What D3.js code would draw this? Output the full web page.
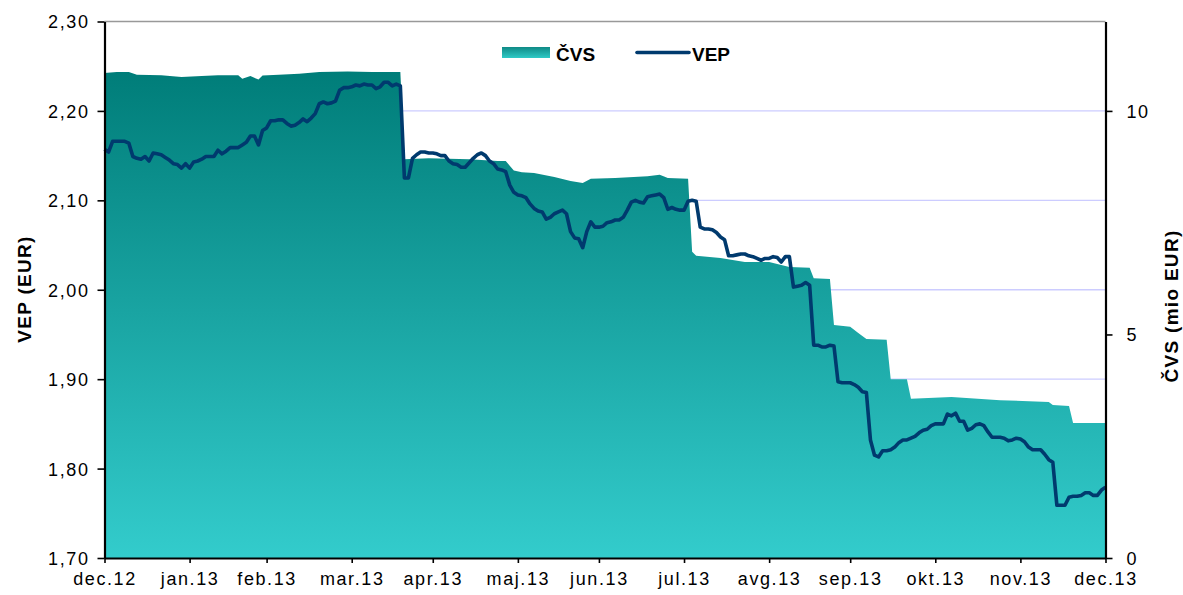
<!DOCTYPE html>
<html lang="sl">
<head>
  <meta charset="UTF-8">
  <title>VEP in ČVS</title>
  <style>
    body { margin: 0; background: #fff; }
    svg { display: block; font-family: "Liberation Sans", Arial, sans-serif; }
  </style>
</head>
<body>
  <svg width="1183" height="595"></svg>
  <script src="https://cdnjs.cloudflare.com/ajax/libs/d3/7.8.5/d3.min.js"></script>
  <script>
    // trading-day index of the first day of each month, and its label
    var monthStart = [0, 21, 40, 61, 81, 102, 122, 143, 164, 184, 205, 226, 247]
    var monthLabels = ['dec.12', 'jan.13', 'feb.13', 'mar.13', 'apr.13', 'maj.13', 'jun.13',
      'jul.13', 'avg.13', 'sep.13', 'okt.13', 'nov.13', 'dec.13']

    var vepTicks = [1.70, 1.80, 1.90, 2.00, 2.10, 2.20, 2.30]
    var cvsTicks = [0, 5, 10]

    // VEP (EUR), one value per trading day
    var vep = [
      2.157, 2.154, 2.166, 2.166, 2.166, 2.166, 2.164, 2.149, 2.147, 2.146,
      2.149, 2.144, 2.153, 2.152, 2.151, 2.148, 2.145, 2.141, 2.140, 2.136,
      2.141, 2.136, 2.143, 2.144, 2.146, 2.149, 2.149, 2.149, 2.156, 2.152,
      2.155, 2.159, 2.159, 2.159, 2.162, 2.165, 2.172, 2.172, 2.162, 2.178,
      2.181, 2.189, 2.189, 2.190, 2.190, 2.186, 2.183, 2.184, 2.187, 2.191,
      2.188, 2.192, 2.197, 2.208, 2.210, 2.208, 2.209, 2.211, 2.223, 2.226,
      2.226, 2.227, 2.229, 2.228, 2.230, 2.229, 2.229, 2.225, 2.227, 2.232,
      2.232, 2.228, 2.230, 2.228, 2.125, 2.125, 2.147, 2.151, 2.154, 2.154,
      2.153, 2.153, 2.152, 2.150, 2.150, 2.144, 2.141, 2.140, 2.137, 2.137,
      2.142, 2.147, 2.151, 2.153, 2.150, 2.144, 2.141, 2.135, 2.134, 2.132,
      2.117, 2.109, 2.106, 2.105, 2.103, 2.096, 2.091, 2.088, 2.087, 2.079,
      2.081, 2.085, 2.087, 2.089, 2.085, 2.065, 2.058, 2.057, 2.047, 2.065,
      2.076, 2.070, 2.070, 2.071, 2.075, 2.076, 2.078, 2.078, 2.081, 2.089,
      2.098, 2.100, 2.098, 2.097, 2.104, 2.105, 2.106, 2.107, 2.103, 2.090,
      2.092, 2.090, 2.089, 2.089, 2.099, 2.100, 2.099, 2.070, 2.068, 2.068,
      2.067, 2.064, 2.059, 2.056, 2.038, 2.038, 2.039, 2.040, 2.040, 2.038,
      2.037, 2.035, 2.033, 2.035, 2.035, 2.037, 2.036, 2.031, 2.037, 2.037,
      2.003, 2.004, 2.005, 2.008, 2.005, 1.938, 1.938, 1.936, 1.936, 1.938,
      1.937, 1.897, 1.896, 1.896, 1.896, 1.894, 1.891, 1.886, 1.885, 1.832,
      1.815, 1.813, 1.820, 1.820, 1.821, 1.824, 1.829, 1.832, 1.832, 1.834,
      1.836, 1.840, 1.843, 1.844, 1.848, 1.850, 1.850, 1.850, 1.861, 1.859,
      1.862, 1.853, 1.853, 1.843, 1.845, 1.849, 1.850, 1.848, 1.841, 1.835,
      1.835, 1.835, 1.834, 1.831, 1.832, 1.834, 1.833, 1.830, 1.824, 1.821,
      1.821, 1.821, 1.816, 1.810, 1.807, 1.759, 1.759, 1.759, 1.768, 1.769,
      1.769, 1.770, 1.773, 1.773, 1.770, 1.770, 1.776, 1.779
    ]

    // ČVS (mio EUR), read at the points where it changes
    var cvsDay = [
      0, 3, 6, 8, 14, 19, 24, 28, 33, 34,
      36, 38, 39, 43, 48, 53, 60, 66, 73, 74,
      80, 90, 97, 99, 101, 103, 106, 111, 115, 118,
      120, 126, 134, 137, 139, 144, 145, 146, 152, 158,
      164, 169, 174, 175, 179, 180, 184, 186, 188, 193,
      194, 198, 199, 209, 221, 233, 234, 238, 239, 247
    ]
    var cvsValue = [
      10.85, 10.87, 10.87, 10.81, 10.80, 10.76, 10.78, 10.80, 10.80, 10.72,
      10.78, 10.70, 10.79, 10.81, 10.83, 10.87, 10.88, 10.87, 10.87, 8.92,
      8.94, 8.92, 8.88, 8.88, 8.67, 8.63, 8.61, 8.52, 8.43, 8.39,
      8.48, 8.50, 8.54, 8.57, 8.50, 8.48, 6.85, 6.76, 6.71, 6.62,
      6.62, 6.51, 6.49, 6.26, 6.24, 5.21, 5.17, 5.03, 4.90, 4.88,
      4.00, 4.00, 3.56, 3.60, 3.53, 3.49, 3.42, 3.40, 3.02, 3.02
    ]

    var svg = d3.select('svg')
    var plotLeft = 104.5, plotRight = 1105.5, plotTop = 21.5, plotBottom = 558

    var x = d3.scaleLinear().domain([0, 247]).range([plotLeft, plotRight])
    var yL = d3.scaleLinear().domain([1.70, 2.30]).range([plotBottom, plotTop])
    var yR = d3.scaleLinear().domain([0, 12]).range([plotBottom, plotTop])

    var comma = function(d) { return d3.format('.2f')(d).replace('.', ',') }

    var defs = svg.append('defs')
    var grad = defs.append('linearGradient')
      .attr('id', 'cvsFill')
      .attr('gradientUnits', 'userSpaceOnUse')
      .attr('x1', 0).attr('x2', 0).attr('y1', yR(10.9)).attr('y2', plotBottom)
    grad.append('stop').attr('offset', 0).attr('stop-color', '#007d79')
    grad.append('stop').attr('offset', 1).attr('stop-color', '#33cccc')

    var gradKey = defs.append('linearGradient')
      .attr('id', 'cvsKey')
      .attr('x1', 0).attr('x2', 0).attr('y1', 0).attr('y2', 1)
    gradKey.append('stop').attr('offset', 0).attr('stop-color', '#0f8a86')
    gradKey.append('stop').attr('offset', 1).attr('stop-color', '#2fcac6')

    // gridlines
    svg.append('g')
      .selectAll('line')
      .data(vepTicks.slice(1, -1))
      .enter()
      .append('line')
      .attr('x1', plotLeft).attr('x2', plotRight)
      .attr('y1', function(d) { return yL(d) }).attr('y2', function(d) { return yL(d) })
      .attr('stroke', '#ccccff')
      .attr('stroke-width', 1.3)

    svg.append('line')
      .attr('x1', plotLeft).attr('x2', plotRight).attr('y1', plotTop).attr('y2', plotTop)
      .attr('stroke', '#999').attr('stroke-width', 1.3)

    // ČVS area
    var cvsPts = cvsDay.map(function(d, i) { return [d, cvsValue[i]] })
    var area = d3.area()
      .x(function(d) { return x(d[0]) })
      .y0(plotBottom)
      .y1(function(d) { return yR(d[1]) })
    svg.append('path')
      .datum(cvsPts)
      .attr('fill', 'url(#cvsFill)')
      .attr('d', area)

    // VEP line
    var line = d3.line()
      .x(function(d, i) { return x(i) })
      .y(function(d) { return yL(d) })
    svg.append('path')
      .datum(vep)
      .attr('fill', 'none')
      .attr('stroke', '#003a6e')
      .attr('stroke-width', 3.6)
      .attr('stroke-linejoin', 'round')
      .attr('d', line)

    // axes
    var axisL = svg.append('g')
      .attr('transform', 'translate(' + plotLeft + ',0)')
      .call(d3.axisLeft(yL).tickValues(vepTicks).tickFormat(comma).tickSizeInner(7).tickSizeOuter(0).tickPadding(8))
    var axisR = svg.append('g')
      .attr('transform', 'translate(' + plotRight + ',0)')
      .call(d3.axisRight(yR).tickValues(cvsTicks).tickSizeInner(7).tickSizeOuter(0).tickPadding(14))
    var axisX = svg.append('g')
      .attr('transform', 'translate(0,' + plotBottom + ')')
      .call(d3.axisBottom(x).tickValues(monthStart)
        .tickFormat(function(d, i) { return monthLabels[i] })
        .tickSizeInner(5).tickSizeOuter(0).tickPadding(8))

    ;[axisL, axisR, axisX].forEach(function(a) {
      a.select('.domain').attr('stroke', '#000').attr('stroke-width', 2.2)
      a.selectAll('.tick line').attr('stroke', '#000').attr('stroke-width', 1.6)
      a.selectAll('text')
        .attr('font-family', '"Liberation Sans", Arial, sans-serif')
        .attr('font-size', 18)
        .attr('letter-spacing', 1.6)
        .attr('fill', '#000')
    })
    axisL.selectAll('text').attr('dy', '0.36em')
    axisR.selectAll('text').attr('dy', '0.36em')
    axisX.selectAll('text').attr('dy', '0.78em')

    // axis titles
    svg.append('text')
      .attr('transform', 'translate(31,289) rotate(-90)')
      .attr('text-anchor', 'middle')
      .attr('font-size', 19)
      .attr('font-weight', 'bold')
      .attr('letter-spacing', 1.3)
      .text('VEP (EUR)')
    svg.append('text')
      .attr('transform', 'translate(1178,306) rotate(-90)')
      .attr('text-anchor', 'middle')
      .attr('font-size', 19)
      .attr('font-weight', 'bold')
      .attr('letter-spacing', 1.3)
      .text('ČVS (mio EUR)')

    // legend
    var legend = svg.append('g')
    legend.append('rect')
      .attr('x', 502).attr('y', 47).attr('width', 48).attr('height', 11)
      .attr('fill', 'url(#cvsKey)')
    legend.append('text')
      .attr('x', 556).attr('y', 61)
      .attr('font-size', 19).attr('font-weight', 'bold')
      .text('ČVS')
    legend.append('line')
      .attr('x1', 637).attr('x2', 689).attr('y1', 52.5).attr('y2', 52.5)
      .attr('stroke', '#003a6e').attr('stroke-width', 3.6).attr('stroke-linecap', 'round')
    legend.append('text')
      .attr('x', 692).attr('y', 61)
      .attr('font-size', 19).attr('font-weight', 'bold')
      .text('VEP')
  </script>
</body>
</html>
